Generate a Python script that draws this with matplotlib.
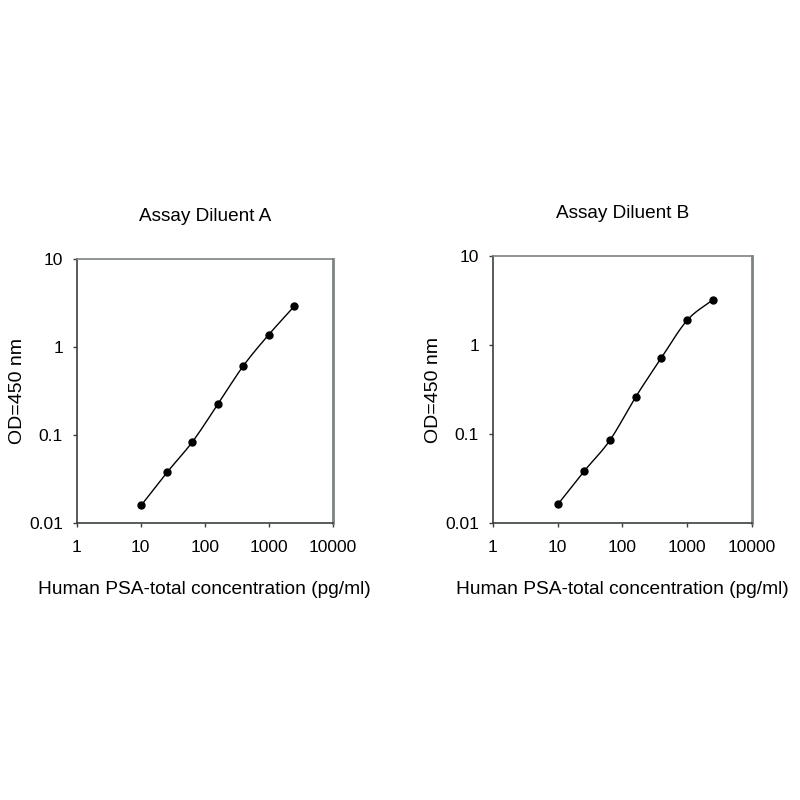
import numpy as np
import matplotlib
matplotlib.use("Agg")
import matplotlib.pyplot as plt
from matplotlib.ticker import FixedLocator, FixedFormatter, NullLocator

plt.rcParams['font.family'] = ['Liberation Sans', 'DejaVu Sans']

# standard curve concentrations (pg/ml) and OD readings
conc = [10.24, 25.6, 64, 160, 400, 1000, 2500]
od_a = [0.0161, 0.0377, 0.084, 0.225, 0.614, 1.39, 2.92]
od_b = [0.0165, 0.0383, 0.0851, 0.261, 0.719, 1.90, 3.24]

titles = ["Assay Diluent A", "Assay Diluent B"]
x_ticks = [1, 10, 100, 1000, 10000]
y_ticks = [0.01, 0.1, 1, 10]
y_tick_labels = ["0.01", "0.1", "1", "10"]

colour_axis = "#3a3f3f"
colour_frame = "#7d8484"


def smooth_line(x, y, n=30):
	# catmull-rom style smoothing in log space, like a spreadsheet smoothed line
	lx = np.log10(x)
	ly = np.log10(y)
	px = np.concatenate(([2 * lx[0] - lx[1]], lx, [2 * lx[-1] - lx[-2]]))
	py = np.concatenate(([2 * ly[0] - ly[1]], ly, [2 * ly[-1] - ly[-2]]))
	xs, ys = [], []
	t = np.linspace(0, 1, n)
	for i in range(1, len(px) - 2):
		for arr, out in ((px, xs), (py, ys)):
			p0, p1, p2, p3 = arr[i - 1], arr[i], arr[i + 1], arr[i + 2]
			out.extend(0.5 * (2 * p1 + (-p0 + p2) * t + (2 * p0 - 5 * p1 + 4 * p2 - p3) * t**2
							  + (-p0 + 3 * p1 - 3 * p2 + p3) * t**3))
	return 10**np.array(xs), 10**np.array(ys)


def style_axes(ax):
	ax.set_xscale("log")
	ax.set_yscale("log")
	ax.set_xlim(1, 10000)
	ax.set_ylim(0.01, 10)
	ax.xaxis.set_major_locator(FixedLocator(x_ticks))
	ax.xaxis.set_major_formatter(FixedFormatter([str(v) for v in x_ticks]))
	ax.yaxis.set_major_locator(FixedLocator(y_ticks))
	ax.yaxis.set_major_formatter(FixedFormatter(y_tick_labels))
	ax.xaxis.set_minor_locator(NullLocator())
	ax.yaxis.set_minor_locator(NullLocator())
	for s in ['left', 'bottom']:
		ax.spines[s].set_color(colour_axis)
		ax.spines[s].set_linewidth(1.2)
	ax.spines['top'].set_color(colour_frame)
	ax.spines['top'].set_linewidth(1.2)
	ax.spines['right'].set_color(colour_frame)
	ax.spines['right'].set_linewidth(2)
	ax.tick_params(direction='out', length=3, width=1, colors=colour_axis,
				   labelcolor='black', labelsize=12.5, right=False, top=False)
	ax.tick_params(axis='x', pad=9)
	ax.tick_params(axis='y', pad=7)


fig = plt.figure(figsize=(8, 8), dpi=100)
positions = [[0.096, 0.346, 0.32, 0.330], [0.616, 0.346, 0.324, 0.334]]
ylabel_x = [-0.20, -0.197]

for pos, od, title, lx in zip(positions, [od_a, od_b], titles, ylabel_x):
	ax = fig.add_axes(pos)
	sx, sy = smooth_line(np.array(conc), np.array(od))
	ax.plot(sx, sy, c='black', lw=1.0)
	ax.plot(conc, od, 'o', c='black', ms=5)
	style_axes(ax)
	ax.set_title(title, fontsize=13.7, pad=27.5)
	ax.set_ylabel("OD=450 nm", fontsize=14)
	ax.yaxis.set_label_coords(lx, 0.5)
	ax.set_xlabel("Human PSA-total concentration (pg/ml)", fontsize=13.8, labelpad=19)

plt.savefig("out.png", dpi=100)
